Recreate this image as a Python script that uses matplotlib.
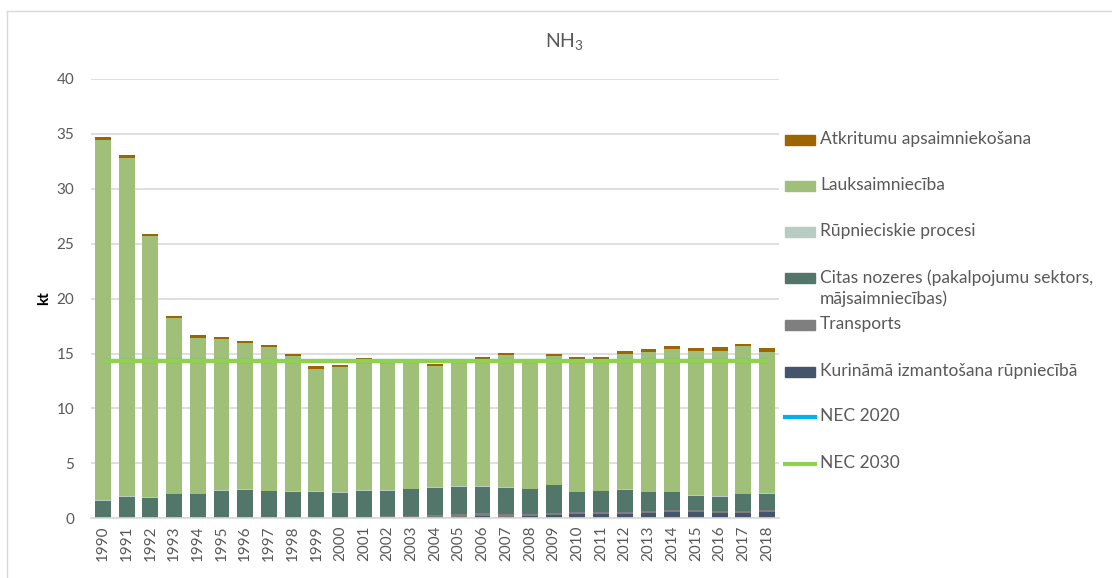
import matplotlib
matplotlib.use("Agg")
import matplotlib.pyplot as plt
import numpy as np
from matplotlib.patches import Rectangle
from matplotlib.lines import Line2D

plt.rcParams['font.family'] = ['Lato', 'DejaVu Sans']
plt.rcParams['mathtext.default'] = 'regular'

years = [str(y) for y in range(1990, 2019)]

kurinama = [0.02, 0.02, 0.02, 0.02, 0.02, 0.02, 0.02, 0.02, 0.02, 0.02, 0.02,
            0.05, 0.05, 0.06, 0.10, 0.15, 0.20, 0.15, 0.20, 0.30, 0.35, 0.35,
            0.40, 0.50, 0.60, 0.60, 0.50, 0.50, 0.60]
transports = [0.02, 0.02, 0.02, 0.05, 0.05, 0.05, 0.05, 0.05, 0.05, 0.05, 0.05,
              0.10, 0.12, 0.15, 0.20, 0.25, 0.25, 0.25, 0.20, 0.20, 0.20, 0.20,
              0.20, 0.20, 0.20, 0.20, 0.20, 0.20, 0.20]
citas = [1.58, 1.94, 1.85, 2.12, 2.12, 2.46, 2.52, 2.40, 2.37, 2.37, 2.25,
         2.38, 2.36, 2.44, 2.50, 2.49, 2.41, 2.40, 2.25, 2.51, 1.83, 1.92,
         1.99, 1.68, 1.58, 1.24, 1.28, 1.49, 1.45]
rupn = [0.05, 0.05, 0.08, 0.05, 0.05, 0.05, 0.05, 0.05, 0.05, 0.05, 0.05,
        0.05, 0.05, 0.05, 0.05, 0.05, 0.05, 0.05, 0.05, 0.05, 0.05, 0.05,
        0.05, 0.05, 0.05, 0.05, 0.05, 0.05, 0.05]
lauks = [32.76, 30.81, 23.73, 16.00, 14.21, 13.72, 13.33, 13.11, 12.29, 11.14, 11.41,
         11.90, 11.57, 11.50, 11.05, 11.26, 11.60, 11.99, 11.40, 11.72, 12.08, 11.99,
         12.35, 12.75, 12.96, 13.12, 13.24, 13.42, 12.88]
atkritumi = [0.27, 0.22, 0.20, 0.18, 0.22, 0.21, 0.21, 0.18, 0.21, 0.21, 0.18,
             0.12, 0.15, 0.15, 0.18, 0.15, 0.21, 0.21, 0.18, 0.21, 0.15, 0.15,
             0.28, 0.24, 0.30, 0.30, 0.30, 0.21, 0.30]
nec2020 = [14.34] * 29
nec2030 = [14.34] * 29

series = [
    ("Kurināmā izmantošana rūpniecībā", kurinama, "#44546A"),
    ("Transports", transports, "#7F7F7F"),
    ("Citas nozeres (pakalpojumu sektors,\nmājsaimniecības)", citas, "#52766A"),
    ("Rūpnieciskie procesi", rupn, "#B8CCC4"),
    ("Lauksaimniecība", lauks, "#A0BF78"),
    ("Atkritumu apsaimniekošana", atkritumi, "#9C6500"),
]

W, H = 1112, 578
fig = plt.figure(figsize=(W / 100, H / 100), dpi=100)
ax = fig.add_axes([91 / W, 1 - 518.3 / H, 688 / W, (518.3 - 79) / H])

x = np.arange(len(years))
bottom = np.zeros(len(years))
for name, vals, col in series:
    v = np.array(vals)
    ax.bar(x, v, width=0.67, bottom=bottom, color=col, edgecolor='none', zorder=2)
    bottom += v

ax.plot(x, nec2020, color="#00B0F0", lw=3, zorder=3, solid_capstyle='butt')
ax.plot(x, nec2030, color="#92D050", lw=3, zorder=4, solid_capstyle='butt')

ax.set_xlim(-0.5, 28.5)
ax.set_ylim(0, 40)
ax.set_yticks(range(0, 41, 5))
ax.set_xticks(x)
ax.set_xticklabels(years, rotation=90, fontsize=11, color="#595959")
ax.tick_params(axis='y', labelsize=11, labelcolor="#595959", length=0, pad=12)
ax.tick_params(axis='x', length=0, pad=5)
ax.yaxis.grid(True, color="#D9D9D9", lw=1.2, zorder=0)
ax.set_axisbelow(True)
for s in ['top', 'right', 'left']:
    ax.spines[s].set_visible(False)
ax.spines['bottom'].set_color("#D9D9D9")
ax.spines['bottom'].set_linewidth(1.2)

fig.text(44 / W, 1 - 298 / H, "kt", rotation=90, fontsize=11, fontweight='bold',
         color="#000000", ha='center', va='center')
fig.text(565 / W, 1 - 42 / H, r"NH$_3$", fontsize=14, color="#595959",
         ha='center', va='center')

# legend
leg = [
    ("Atkritumu apsaimniekošana", "#9C6500", "patch", 140),
    ("Lauksaimniecība", "#A0BF78", "patch", 186),
    ("Rūpnieciskie procesi", "#B8CCC4", "patch", 232),
    ("Citas nozeres (pakalpojumu sektors,\nmājsaimniecības)", "#52766A", "patch", 278),
    ("Transports", "#7F7F7F", "patch", 325),
    ("Kurināmā izmantošana rūpniecībā", "#44546A", "patch", 372),
    ("NEC 2020", "#00B0F0", "line", 417),
    ("NEC 2030", "#92D050", "line", 464),
]
for label, col, kind, yp in leg:
    if kind == "patch":
        fig.patches.append(Rectangle((785 / W, 1 - (yp + 5) / H), 30 / W, 10 / H,
                                     transform=fig.transFigure, color=col))
    else:
        fig.lines.append(Line2D([785 / W, 815 / W], [1 - yp / H, 1 - yp / H],
                                transform=fig.transFigure, color=col, lw=3))
    fig.text(820 / W, 1 - (yp - 9) / H, label, fontsize=12.5, color="#595959",
             ha='left', va='top', linespacing=1.35)

# chart border
fig.lines.append(Line2D([7 / W, 1], [1 - 11 / H, 1 - 11 / H], transform=fig.transFigure,
                        color="#D9D9D9", lw=1))
fig.lines.append(Line2D([7 / W, 7 / W], [0, 1 - 11 / H], transform=fig.transFigure,
                        color="#D9D9D9", lw=1))

fig.savefig("out.png", dpi=100, facecolor="white")
